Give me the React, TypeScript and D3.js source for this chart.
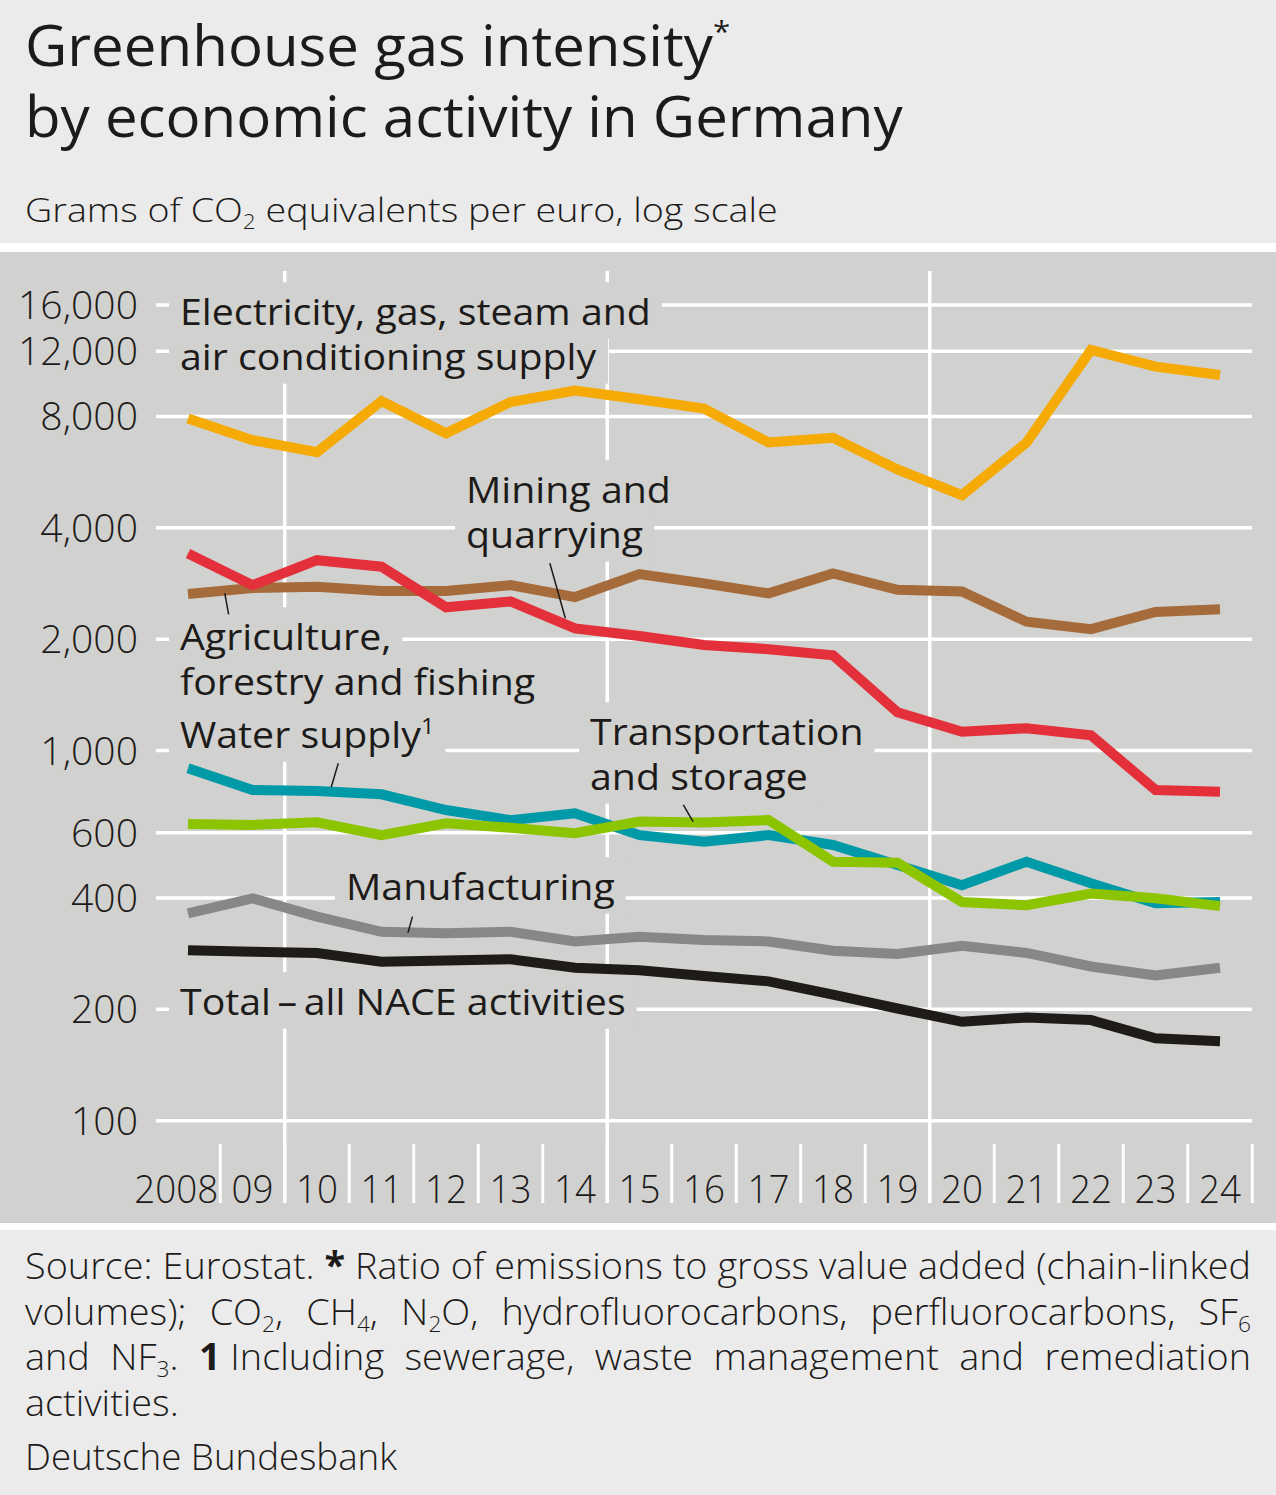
"use client"

import React, { useEffect, useRef } from 'react';
import * as d3 from 'd3';

// values, grams of CO2 equivalents per euro
const years = [2008, 2009, 2010, 2011, 2012, 2013, 2014, 2015, 2016, 2017, 2018, 2019, 2020, 2021, 2022, 2023, 2024];
const yearLabels = ['2008', '09', '10', '11', '12', '13', '14', '15', '16', '17', '18', '19', '20', '21', '22', '23', '24'];

const electricity = [7900, 6900, 6400, 8800, 7200, 8750, 9400, 8900, 8400, 6800, 7000, 5750, 4900, 6800, 12100, 10900, 10350];
const agriculture = [2650, 2750, 2770, 2700, 2700, 2800, 2600, 3000, 2830, 2660, 3010, 2720, 2690, 2230, 2130, 2370, 2410];
const mining = [3410, 2800, 3270, 3140, 2440, 2530, 2140, 2040, 1930, 1880, 1810, 1270, 1125, 1150, 1100, 783, 774];
const water = [896, 783, 778, 762, 691, 649, 677, 591, 567, 591, 556, 491, 433, 501, 438, 387, 390];
const transport = [633, 630, 640, 591, 636, 619, 598, 643, 639, 649, 501, 498, 390, 382, 411, 399, 380];
const manufacturing = [363, 399, 356, 324, 321, 324, 305, 314, 308, 305, 288, 282, 297, 284, 261, 247, 259];
const total = [289, 286, 284, 269, 271, 273, 259, 255, 246, 238, 219, 201, 185, 190, 187, 167, 164];

const yTicks = [100, 200, 400, 600, 1000, 2000, 4000, 8000, 12000, 16000];
const majorYears = [2010, 2015, 2020];

// drawing order matters: later lines sit on top
const series = [
    { name: 'electricity', values: electricity, color: '#f5aa05' },
    { name: 'agriculture', values: agriculture, color: '#a56b3b' },
    { name: 'mining', values: mining, color: '#e4303a' },
    { name: 'water', values: water, color: '#0099a8' },
    { name: 'transport', values: transport, color: '#8dc400' },
    { name: 'manufacturing', values: manufacturing, color: '#878787' },
    { name: 'total', values: total, color: '#1f1b19' },
];

// line labels (pixel anchors of first baseline), ` marks a superscript char
const labels = [
    { lines: ['Electricity, gas, steam and', 'air conditioning supply'], x: 180, y: 325 },
    { lines: ['Mining and', 'quarrying'], x: 466, y: 503 },
    { lines: ['Agriculture,', 'forestry and fishing'], x: 180, y: 650 },
    { lines: ['Water supply`1'], x: 180, y: 748 },
    { lines: ['Transportation', 'and storage'], x: 590, y: 745 },
    { lines: ['Manufacturing'], x: 346, y: 900 },
    { lines: ['Total\u2009\u2013\u2009all NACE activities'], x: 180, y: 1015 },
];

// leader lines in data coordinates [year, value]
const leaders = [
    [[2008.57, 2665], [2008.63, 2335]],
    [[2013.61, 3207], [2013.85, 2278]],
    [[2010.33, 924], [2010.22, 796]],
    [[2015.68, 713], [2015.83, 643]],
    [[2011.48, 356], [2011.41, 322]],
];

// ^ toggles bold, _ next char subscript, ~ is a glued space
const footerLines = [
    'Source: Eurostat. ^*^ Ratio of emissions to gross value added (chain-linked',
    'volumes); CO_2, CH_4, N_2O, hydrofluorocarbons, perfluorocarbons, SF_6',
    'and NF_3. ^1^~Including sewerage, waste management and remediation',
    'activities.',
];

const FONT = "'Open Sans', 'Noto Sans', sans-serif";
const INK = '#1d1b1a';
const PLOT_BG = '#d1d1cf';

interface Seg { t: string; bold?: boolean; sub?: boolean; sup?: boolean }

function parse(w: string): Seg[] {
    const out: Seg[] = [];
    let bold = false;
    for (let i = 0; i < w.length; i++) {
        const c = w[i];
        if (c === '^') { bold = !bold; continue; }
        if (c === '_') { out.push({ t: w[++i], sub: true }); continue; }
        if (c === '`') { out.push({ t: w[++i], sup: true }); continue; }
        const ch = c === '~' ? ' ' : c;
        const last = out[out.length - 1];
        if (last && !last.sub && !last.sup && !!last.bold === bold) last.t += ch;
        else out.push({ t: ch, bold });
    }
    return out;
}

function rich(sel: any, segs: Seg[], size: number) {
    let cur = 0;
    segs.forEach(s => {
        const target = s.sub ? size * 0.2 : s.sup ? -size * 0.38 : 0;
        const ts = sel.append('tspan').text(s.t);
        if (s.bold) ts.attr('font-weight', 700);
        if (s.sub || s.sup) ts.attr('font-size', size * 0.6);
        if (target !== cur) ts.attr('dy', target - cur);
        cur = target;
    });
}

const App: React.FC = () => {
    const svgRef = useRef<SVGSVGElement | null>(null);

    useEffect(() => {
        const svg = d3.select(svgRef.current);
        svg.selectAll('*').remove();
        svg.attr('font-family', FONT).attr('fill', INK);

        // measure natural width of a text so we can condense it to the target width
        const measure = (str: string, size: number, weight = 400) => {
            const t = svg.append('text').attr('font-size', size).attr('font-weight', weight);
            rich(t, parse(str), size);
            const w = (t.node() as SVGTextElement).getComputedTextLength();
            t.remove();
            return w;
        };

        const place = (parent: any, str: string, x: number, y: number, size: number, ratio: number, weight = 400, anchor = 'start') => {
            const t = parent.append('text')
                .attr('transform', `translate(${x},${y}) scale(${ratio},1)`)
                .attr('font-size', size)
                .attr('font-weight', weight)
                .attr('text-anchor', anchor);
            rich(t, parse(str), size);
            return t;
        };

        // backgrounds
        svg.append('rect').attr('width', 1276).attr('height', 1495).attr('fill', '#ebebeb');
        svg.append('rect').attr('y', 243).attr('width', 1276).attr('height', 9).attr('fill', '#fff');
        svg.append('rect').attr('y', 252).attr('width', 1276).attr('height', 971).attr('fill', PLOT_BG);
        svg.append('rect').attr('y', 1223).attr('width', 1276).attr('height', 7).attr('fill', '#fff');

        // title + subtitle
        const titleR = 878 / measure('by economic activity in Germany', 56);
        const title1 = place(svg, 'Greenhouse gas intensity', 25, 66, 56, titleR);
        title1.append('tspan').attr('font-size', 30).attr('dy', -24).text('*');
        place(svg, 'by economic activity in Germany', 25, 137, 56, titleR);
        const subStr = 'Grams of CO_2 equivalents per euro, log scale';
        const subR = 753 / measure(subStr, 33, 300);
        place(svg, subStr, 25, 222, 33, subR, 300);

        const x = d3.scaleLinear().domain([2008, 2024]).range([188, 1220]);
        const y = d3.scaleLog().domain([100, 16000]).range([1120.7, 305]);

        const grid = svg.append('g').attr('stroke', '#fff').attr('stroke-width', 3.5);
        const maskG = svg.append('g');
        const lineG = svg.append('g');
        const labelG = svg.append('g');

        // horizontal gridlines
        grid.selectAll('line.h').data(yTicks).join('line')
            .attr('x1', 156).attr('x2', 1252)
            .attr('y1', d => y(d)).attr('y2', d => y(d));

        // major vertical gridlines between year cells
        grid.selectAll('line.v').data(majorYears).join('line')
            .attr('x1', d => x(d - 0.5)).attr('x2', d => x(d - 0.5))
            .attr('y1', 271).attr('y2', 1203);

        // year separators along the axis
        grid.selectAll('line.s').data(d3.range(years.length)).join('line')
            .attr('stroke-width', 3)
            .attr('x1', d => x(years[d] + 0.5)).attr('x2', d => x(years[d] + 0.5))
            .attr('y1', 1144).attr('y2', 1203);

        // y tick labels
        const tickR = 120 / measure('16,000', 38, 300);
        const fmt = d3.format(',');
        yTicks.forEach(v => place(svg, fmt(v), 138, y(v) + 14, 38, tickR, 300, 'end'));

        // x labels
        const xR = 84 / measure('2008', 38, 300);
        years.forEach((yr, i) => {
            if (i === 0) place(svg, yearLabels[i], x(yr + 0.5) - 2, 1203, 38, xR, 300, 'end');
            else place(svg, yearLabels[i], x(yr), 1203, 38, xR, 300, 'middle');
        });

        // series
        const line = d3.line<number>()
            .x((_, i) => x(years[i]))
            .y(d => y(d));
        series.forEach(s => {
            lineG.append('path')
                .attr('d', line(s.values))
                .attr('fill', 'none')
                .attr('stroke', s.color)
                .attr('stroke-width', 10)
                .attr('stroke-linejoin', 'miter')
                .attr('stroke-miterlimit', 2);
        });

        // line labels with background masks over the grid
        const labR = 471 / measure('Electricity, gas, steam and', 37);
        labels.forEach(l => {
            l.lines.forEach((str, i) => {
                const t = place(labelG, str, l.x, l.y + i * 45, 37, labR);
                const bb = (t.node() as SVGGraphicsElement).getBBox();
                const w = bb.width * labR;
                maskG.append('rect')
                    .attr('x', l.x - 11).attr('y', l.y + i * 45 + bb.y - 3)
                    .attr('width', w + 22).attr('height', bb.height + 6)
                    .attr('fill', PLOT_BG);
            });
        });

        labelG.selectAll('line').data(leaders).join('line')
            .attr('x1', d => x(d[0][0])).attr('y1', d => y(d[0][1]))
            .attr('x2', d => x(d[1][0])).attr('y2', d => y(d[1][1]))
            .attr('stroke', INK).attr('stroke-width', 1.5);

        // footer: justified lines
        const footR = 1226 / measure(footerLines[0].replace(/\^/g, ''), 37, 300);
        const fg = svg.append('g');
        footerLines.forEach((ln, li) => {
            const base = 1279 + li * 45.5;
            const words = ln.split(' ');
            const g = fg.append('g').attr('transform', `translate(25,${base}) scale(${footR},1)`);
            const texts = words.map(w => {
                const t = g.append('text').attr('font-size', 37).attr('font-weight', 300);
                rich(t, parse(w), 37);
                return t;
            });
            const widths = texts.map(t => (t.node() as SVGTextElement).getComputedTextLength());
            const sum = d3.sum(widths);
            const last = li === footerLines.length - 1;
            const space = measure('a b', 37, 300) - measure('ab', 37, 300);
            const gap = last || words.length < 2 ? space : (1226 / footR - sum) / (words.length - 1);
            let cx = 0;
            texts.forEach((t, i) => {
                t.attr('x', cx);
                cx += widths[i] + gap;
            });
        });
        place(svg, 'Deutsche Bundesbank', 25, 1470, 37, footR * 0.97, 300);
    }, []);

    return <svg ref={svgRef} width={1276} height={1495} style={{ position: 'absolute', left: 0, top: 0 }} />;
};

export default App;
